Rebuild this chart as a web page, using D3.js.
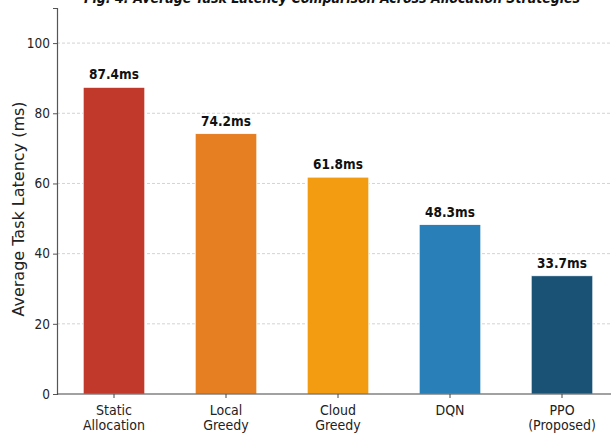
<!doctype html>
<html lang="en">
<head>
<meta charset="utf-8">
<title>Average Task Latency</title>
<style>
  body { margin: 0; background: #fff; }
  svg { display: block; }
  .cond { font-family: "DejaVu Sans Condensed", "DejaVu Sans", sans-serif; font-stretch: condensed; }
</style>
</head>
<body>
<div id="chart"></div>
<script src="https://d3js.org/d3.v7.min.js"></script>
<script>
// data
var strategies = [["Static", "Allocation"], ["Local", "Greedy"], ["Cloud", "Greedy"], ["DQN"], ["PPO", "(Proposed)"]];
var latency = [87.4, 74.2, 61.8, 48.3, 33.7];
var barColors = ["#c0392b", "#e67e22", "#f39c12", "#2980b9", "#1a5276"];
var yTicks = [0, 20, 40, 60, 80, 100];

var w = 611, h = 433;
var mLeft = 57, mBottom = 394, mTop = 8;

var svg = d3.select("#chart").append("svg")
  .attr("width", w)
  .attr("height", h);

var x = d3.scaleBand()
  .domain(d3.range(latency.length))
  .range([58, 618])
  .paddingInner(0.45)
  .paddingOuter(0.225);

var y = d3.scaleLinear()
  .domain([0, 110])
  .range([mBottom, mTop]);

// grid
svg.append("g")
  .selectAll("line")
  .data(yTicks.filter(function(d) { return d > 0; }))
  .enter().append("line")
  .attr("x1", mLeft).attr("x2", w)
  .attr("y1", function(d) { return y(d); })
  .attr("y2", function(d) { return y(d); })
  .attr("stroke", "#c8c8c8")
  .attr("stroke-width", 0.8)
  .attr("stroke-dasharray", "3,2");

// bars
svg.append("g")
  .selectAll("rect")
  .data(latency)
  .enter().append("rect")
  .attr("x", function(d, i) { return x(i); })
  .attr("width", x.bandwidth())
  .attr("y", function(d) { return y(d); })
  .attr("height", function(d) { return y(0) - y(d); })
  .attr("fill", function(d, i) { return barColors[i]; })
  .attr("stroke", "#ffffff")
  .attr("stroke-width", 0.8);

// value labels
svg.append("g")
  .selectAll("text")
  .data(latency)
  .enter().append("text")
  .attr("class", "cond")
  .attr("x", function(d, i) { return x(i) + x.bandwidth() / 2; })
  .attr("y", function(d) { return y(d) - 8; })
  .attr("text-anchor", "middle")
  .attr("font-size", 13.5)
  .attr("font-weight", "bold")
  .attr("fill", "#111")
  .text(function(d) { return d.toFixed(1) + "ms"; });

// y axis
var yAxis = svg.append("g")
  .attr("transform", "translate(" + mLeft + ",0)")
  .call(d3.axisLeft(y).tickValues(yTicks).tickSize(4).tickPadding(3));
yAxis.select(".domain").attr("stroke", "#555").attr("stroke-width", 1.2);
yAxis.selectAll(".tick line").attr("stroke", "#555");
yAxis.selectAll("text")
  .attr("class", "cond")
  .attr("font-size", 13.5)
  .attr("fill", "#222");

// x axis
var xAxis = svg.append("g")
  .attr("transform", "translate(0," + mBottom + ")");
xAxis.append("line")
  .attr("x1", mLeft).attr("x2", w)
  .attr("stroke", "#444").attr("stroke-width", 1.2);
var xt = xAxis.selectAll("g")
  .data(strategies)
  .enter().append("g")
  .attr("transform", function(d, i) { return "translate(" + (x(i) + x.bandwidth() / 2) + ",0)"; });
xt.append("line").attr("y2", 4).attr("stroke", "#444");
xt.append("text")
  .attr("class", "cond")
  .attr("text-anchor", "middle")
  .attr("font-size", 14)
  .attr("fill", "#222")
  .selectAll("tspan")
  .data(function(d) { return d; })
  .enter().append("tspan")
  .attr("x", 0)
  .attr("y", function(d, i) { return 21 + i * 15; })
  .text(function(d) { return d; });

// axis title
svg.append("text")
  .attr("transform", "translate(24,209) rotate(-90)")
  .attr("text-anchor", "middle")
  .attr("font-family", "DejaVu Sans, sans-serif")
  .attr("font-size", 16)
  .attr("fill", "#222")
  .text("Average Task Latency (ms)");

// chart title (cut at top edge, as in the figure)
svg.append("text")
  .attr("class", "cond")
  .attr("x", 332)
  .attr("y", 3)
  .attr("text-anchor", "middle")
  .attr("font-size", 14)
  .attr("font-weight", "bold")
  .attr("font-style", "italic")
  .attr("fill", "#111")
  .text("Fig. 4: Average Task Latency Comparison Across Allocation Strategies");
</script>
</body>
</html>
